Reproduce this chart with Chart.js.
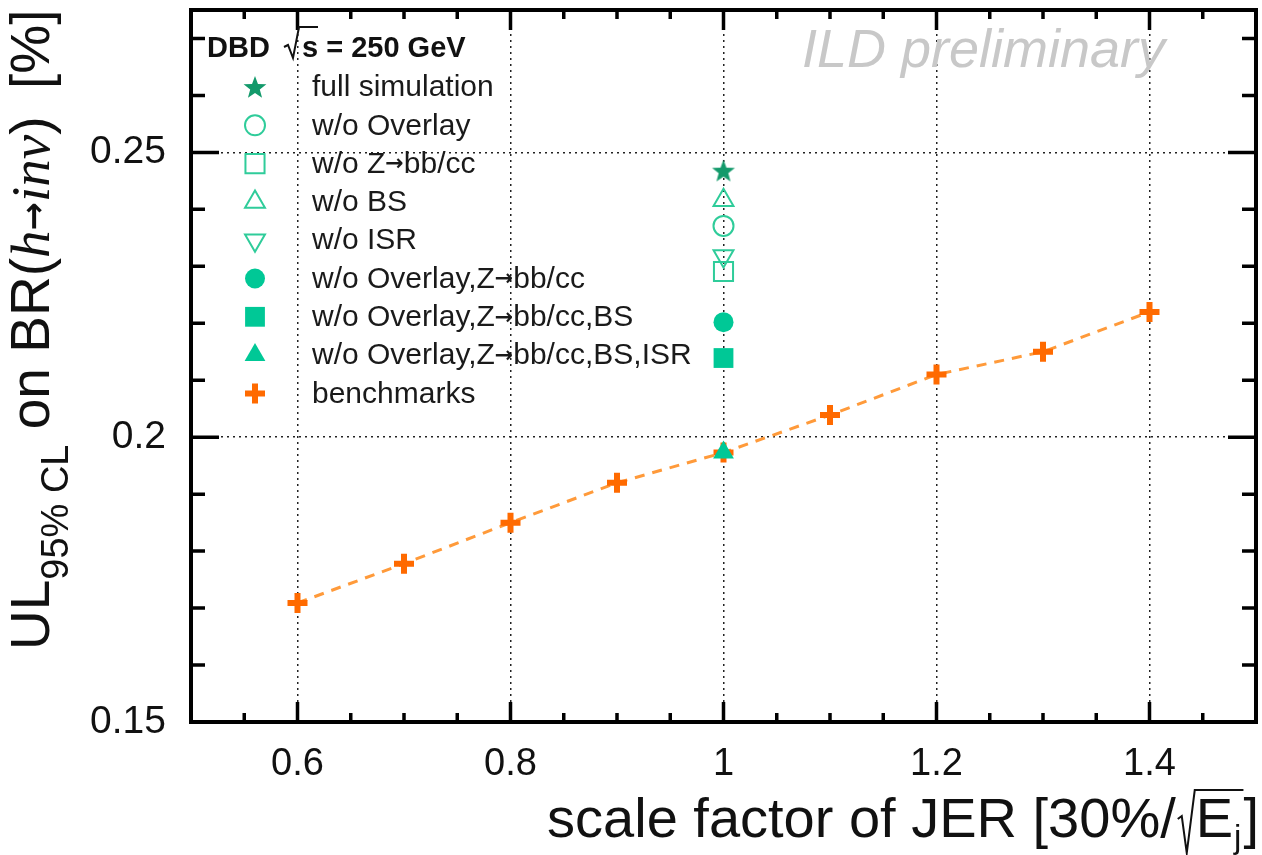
<!DOCTYPE html>
<html>
<head>
<meta charset="utf-8">
<title>UL on BR(h->inv) vs JER scale factor</title>
<script src="https://cdn.jsdelivr.net/npm/chart.js@4.4.0/dist/chart.umd.min.js"></script>
<style>
  html, body { margin: 0; padding: 0; background: #fff; }
  #wrap { width: 1262px; height: 855px; position: relative; }
</style>
</head>
<body>
<div id="wrap"><canvas id="c" width="1262" height="855"></canvas></div>
<script>
// benchmark curve: UL vs JER scale factor
const jerScale = [0.6, 0.7, 0.8, 0.9, 1.0, 1.1, 1.2, 1.3, 1.4];
const benchmarkUL = [0.1709, 0.1778, 0.1850, 0.1920, 0.1973, 0.2039, 0.2110, 0.2150, 0.2220];

// simulation variants, all at scale factor 1
const variantLabels = [
    'full simulation',
    'w/o Overlay',
    'w/o Z\u2192bb/cc',
    'w/o BS',
    'w/o ISR',
    'w/o Overlay,Z\u2192bb/cc',
    'w/o Overlay,Z\u2192bb/cc,BS',
    'w/o Overlay,Z\u2192bb/cc,BS,ISR'
];
const variantX = 1.0;
const variantUL = [0.2468, 0.2371, 0.2291, 0.2416, 0.2318, 0.2202, 0.2139, 0.1973];

const xTickLabels = ['0.6', '0.8', '1', '1.2', '1.4'];
const yTickLabels = ['0.15', '0.2', '0.25'];

const SANS = '"Liberation Sans", Arial, Helvetica, sans-serif';
const SERIF = '"Liberation Serif", "Times New Roman", serif';
const ARROW = '"DejaVu Sans", sans-serif';

const darkGreen = '#139a6b';
const openGreen = '#2fcc9a';
const fillGreen = '#00c896';
const orange = '#ff6a00';
const orangeLine = '#ff9a3a';

// filled five-point star for the full simulation marker
function starImage(r, color) {
    const s = Math.ceil(r * 2 + 2);
    const c = document.createElement('canvas');
    c.width = s; c.height = s;
    const g = c.getContext('2d');
    g.fillStyle = color;
    g.beginPath();
    for (let i = 0; i < 10; i++) {
        const rad = i % 2 ? r * 0.42 : r;
        const ang = -Math.PI / 2 + i * Math.PI / 5;
        g.lineTo(s / 2 + rad * Math.cos(ang), s / 2 + 1 + rad * Math.sin(ang));
    }
    g.closePath();
    g.fill();
    return c;
}

// marker styles per variant (same order as variantLabels)
const variantStyles = [
    { pointStyle: starImage(12, darkGreen), radius: 12, fill: darkGreen, stroke: darkGreen, borderWidth: 0, rotation: 0 },
    { pointStyle: 'circle', radius: 10, fill: 'rgba(0,0,0,0)', stroke: openGreen, borderWidth: 2, rotation: 0 },
    { pointStyle: 'rect', radius: 13.5, fill: 'rgba(0,0,0,0)', stroke: openGreen, borderWidth: 2, rotation: 0 },
    { pointStyle: 'triangle', radius: 11.5, fill: 'rgba(0,0,0,0)', stroke: openGreen, borderWidth: 2, rotation: 0 },
    { pointStyle: 'triangle', radius: 11.5, fill: 'rgba(0,0,0,0)', stroke: openGreen, borderWidth: 2, rotation: 180 },
    { pointStyle: 'circle', radius: 10, fill: fillGreen, stroke: fillGreen, borderWidth: 0, rotation: 0 },
    { pointStyle: 'rect', radius: 14, fill: fillGreen, stroke: fillGreen, borderWidth: 0, rotation: 0 },
    { pointStyle: 'triangle', radius: 12, fill: fillGreen, stroke: fillGreen, borderWidth: 0, rotation: 0 }
];
const benchStyle = { pointStyle: 'cross', radius: 10, fill: orange, stroke: orange, borderWidth: 6, rotation: 0 };

const isMajorX = v => Math.round(v * 100) % 20 === 0;
const isMajorY = v => Math.round(v * 1000) % 50 === 0;

const datasets = variantLabels.map((label, i) => ({
    label: label,
    data: [{ x: variantX, y: variantUL[i] }],
    pointStyle: variantStyles[i].pointStyle,
    pointRadius: variantStyles[i].radius,
    pointRotation: variantStyles[i].rotation,
    pointBackgroundColor: variantStyles[i].fill,
    pointBorderColor: variantStyles[i].stroke,
    pointBorderWidth: variantStyles[i].borderWidth,
    showLine: false
}));
// benchmarks last so they are drawn underneath
datasets.push({
    label: 'benchmarks',
    data: jerScale.map((x, i) => ({ x: x, y: benchmarkUL[i] })),
    showLine: true,
    borderColor: orangeLine,
    borderWidth: 3,
    borderDash: [10, 8],
    pointStyle: 'cross',
    pointRadius: benchStyle.radius,
    pointBorderColor: orange,
    pointBackgroundColor: orange,
    pointBorderWidth: benchStyle.borderWidth
});

function drawMarker(ctx, st, x, y) {
    ctx.save();
    ctx.fillStyle = st.fill;
    ctx.strokeStyle = st.stroke;
    ctx.lineWidth = st.borderWidth;
    Chart.helpers.drawPoint(ctx, {
        pointStyle: st.pointStyle, radius: st.radius,
        rotation: st.rotation, borderWidth: st.borderWidth
    }, x, y);
    ctx.restore();
}

// text with Z->bb/cc arrows drawn in a font that has a proper arrow glyph
function fillWithArrow(ctx, txt, x, y, font, arrowFont) {
    const parts = txt.split('\u2192');
    parts.forEach((p, i) => {
        ctx.font = font;
        ctx.fillText(p, x, y);
        x += ctx.measureText(p).width;
        if (i < parts.length - 1) {
            ctx.font = arrowFont;
            ctx.fillText('\u2192', x, y);
            x += ctx.measureText('\u2192').width;
        }
    });
}

function drawYTitle(ctx) {
    const size = 55;
    ctx.save();
    ctx.translate(49, 650);
    ctx.rotate(-Math.PI / 2);
    ctx.fillStyle = '#111';
    ctx.textBaseline = 'alphabetic';
    let x = 0;
    const put = (txt, font, dy) => {
        ctx.font = font;
        ctx.fillText(txt, x, dy || 0);
        x += ctx.measureText(txt).width;
    };
    put('UL', `${size}px ${SANS}`);
    put('95% CL', `38px ${SANS}`, 19);
    put(' on BR(', `${size}px ${SANS}`);
    put('h', `italic ${size}px ${SERIF}`);
    put('\u2192', `bold 34px ${ARROW}`, -4);
    put('inv', `italic ${size}px ${SERIF}`);
    put(')\u2002[%]', `${size}px ${SANS}`);
    ctx.restore();
}

function drawXTitle(ctx) {
    const size = 56, base = 837;
    const main = `${size}px ${SANS}`;
    const sub = `33px ${SANS}`;
    ctx.save();
    ctx.fillStyle = '#111';
    ctx.strokeStyle = '#111';
    ctx.font = main;
    const t1 = 'scale factor of JER [30%/';
    const w1 = ctx.measureText(t1).width;
    const wE = ctx.measureText('E').width;
    const wb = ctx.measureText(']').width;
    ctx.font = sub;
    const wj = ctx.measureText('j').width;
    const radW = 20;
    const total = w1 + radW + wE + wj + 3 + wb;
    let x = 1259 - total;
    ctx.font = main;
    ctx.fillText(t1, x, base);
    x += w1;
    // radical sign with overbar
    ctx.lineWidth = 2;
    ctx.beginPath();
    ctx.moveTo(x + 2, base - 18);
    ctx.lineTo(x + 6, base - 21);
    ctx.lineTo(x + 11, base + 16);
    ctx.lineTo(x + radW - 1, base - 47);
    ctx.lineTo(x + radW + wE + wj + 3, base - 47);
    ctx.stroke();
    x += radW;
    ctx.fillText('E', x, base);
    x += wE;
    ctx.font = sub;
    ctx.fillText('j', x + 1, base + 11);
    x += wj + 3;
    ctx.font = main;
    ctx.fillText(']', x, base);
    ctx.restore();
}

function drawLegend(ctx) {
    ctx.save();
    ctx.fillStyle = '#111';
    ctx.font = `bold 29px ${SANS}`;
    ctx.textBaseline = 'alphabetic';
    ctx.fillText('DBD', 207, 57);
    ctx.fillText('s = 250 GeV', 302, 57);
    ctx.strokeStyle = '#111';
    ctx.lineWidth = 2;
    ctx.beginPath();
    ctx.moveTo(284, 47);
    ctx.lineTo(288, 45);
    ctx.lineTo(293, 58);
    ctx.lineTo(299, 27);
    ctx.lineTo(318, 27);
    ctx.stroke();

    const x0 = 255, tx = 312, y0 = 87, step = 38.3;
    const labels = variantLabels.concat(['benchmarks']);
    const styles = variantStyles.concat([benchStyle]);
    ctx.textBaseline = 'middle';
    labels.forEach((lab, i) => {
        const y = y0 + i * step;
        drawMarker(ctx, styles[i], x0, y);
        ctx.fillStyle = '#1a1a1a';
        fillWithArrow(ctx, lab, tx, y + 1, `30px ${SANS}`, `bold 22px ${ARROW}`);
    });
    ctx.restore();
}

const framePlugin = {
    id: 'frame',
    afterDatasetsDraw(chart) {
        const { ctx, chartArea: a, scales: { x, y } } = chart;
        ctx.save();
        ctx.strokeStyle = '#000';
        ctx.lineWidth = 3.5;
        ctx.lineCap = 'butt';
        ctx.beginPath();
        x.ticks.forEach(t => {
            const px = x.getPixelForValue(t.value);
            const len = isMajorX(t.value) ? 20 : 9;
            ctx.moveTo(px, a.bottom); ctx.lineTo(px, a.bottom - len);
            ctx.moveTo(px, a.top); ctx.lineTo(px, a.top + len);
        });
        y.ticks.forEach(t => {
            const py = y.getPixelForValue(t.value);
            const len = isMajorY(t.value) ? 28 : 14;
            ctx.moveTo(a.left, py); ctx.lineTo(a.left + len, py);
            ctx.moveTo(a.right, py); ctx.lineTo(a.right - len, py);
        });
        ctx.stroke();
        ctx.lineWidth = 4;
        ctx.strokeRect(a.left, a.top, a.right - a.left, a.bottom - a.top);
        ctx.restore();
    },
    afterDraw(chart) {
        const ctx = chart.ctx;
        ctx.save();
        ctx.fillStyle = '#c8c8c8';
        ctx.font = `italic 54px ${SANS}`;
        ctx.fillText('ILD preliminary', 802, 67);
        ctx.restore();
        drawLegend(ctx);
        drawXTitle(ctx);
        drawYTitle(ctx);
    }
};

new Chart(document.getElementById('c'), {
    type: 'scatter',
    data: { datasets: datasets },
    options: {
        responsive: false,
        animation: false,
        layout: { autoPadding: false, padding: { top: 10, right: 6, left: 0, bottom: 0 } },
        plugins: { legend: { display: false }, tooltip: { enabled: false } },
        scales: {
            x: {
                type: 'linear',
                min: 0.5,
                max: 1.5,
                afterFit: s => { s.height = 133; s.paddingLeft = 0; s.paddingRight = 0; },
                border: { display: false, dash: [2, 4] },
                grid: {
                    drawTicks: false,
                    lineWidth: 1.5,
                    color: c => (c.tick && isMajorX(c.tick.value) && c.tick.value > 0.55 && c.tick.value < 1.45) ? '#222' : 'rgba(0,0,0,0)'
                },
                ticks: {
                    stepSize: 0.05,
                    includeBounds: false,
                    autoSkip: false,
                    maxRotation: 0,
                    padding: 20,
                    color: '#111',
                    font: { family: SANS, size: 38 },
                    callback: v => {
                        const lab = String(Math.round(v * 10) / 10);
                        return isMajorX(v) && xTickLabels.includes(lab) ? lab : '';
                    }
                }
            },
            y: {
                type: 'linear',
                min: 0.15,
                max: 0.275,
                afterFit: s => { s.width = 191; s.paddingTop = 0; s.paddingBottom = 0; },
                border: { display: false, dash: [2, 4] },
                grid: {
                    drawTicks: false,
                    lineWidth: 1.5,
                    color: c => (c.tick && isMajorY(c.tick.value) && c.tick.value > 0.16) ? '#222' : 'rgba(0,0,0,0)'
                },
                ticks: {
                    stepSize: 0.01,
                    includeBounds: false,
                    autoSkip: false,
                    padding: 25,
                    color: '#111',
                    font: { family: SANS, size: 39 },
                    callback: v => {
                        const lab = String(Math.round(v * 100) / 100);
                        return isMajorY(v) && yTickLabels.includes(lab) ? lab : '';
                    }
                }
            }
        }
    },
    plugins: [framePlugin]
});
</script>
</body>
</html>
